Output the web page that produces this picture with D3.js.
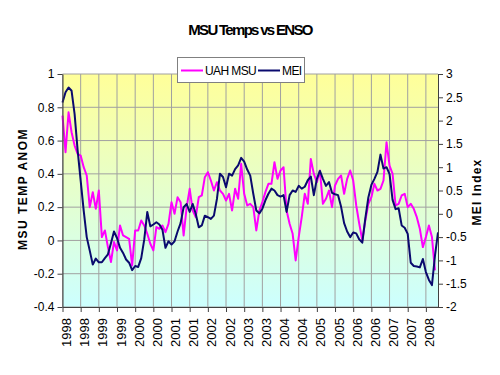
<!DOCTYPE html>
<html>
<head>
<meta charset="utf-8">
<script src="https://cdn.jsdelivr.net/npm/d3@7"></script>
<style>
  body { margin: 0; background: #fff; }
  svg { display: block; font-family: "Liberation Sans", Arial, sans-serif; }
</style>
</head>
<body>
<div id="chart"></div>
<script>
// monthly values, Jan 1998 onwards (UAH ends one month before MEI)
const uah = [
  0.75, 0.53, 0.77, 0.65, 0.57, 0.52, 0.51, 0.44, 0.39, 0.20, 0.29, 0.19,
  0.30, 0.02, 0.06, -0.04, -0.13, -0.01, -0.06, 0.09, 0.03, 0.02, 0.01, -0.15,
  0.06, 0.06, 0.12, 0.09, 0.04, -0.02, -0.06, 0.08, 0.07, 0.09, 0.05, 0.10,
  0.23, 0.16, 0.26, 0.23, 0.03, 0.20, 0.31, 0.18, 0.14, 0.26, 0.27, 0.38,
  0.41, 0.36, 0.30, 0.35, 0.30, 0.28, 0.24, 0.28, 0.18, 0.31, 0.25, 0.46,
  0.28, 0.21, 0.22, 0.20, 0.06, 0.18, 0.23, 0.29, 0.34, 0.34, 0.47, 0.37,
  0.42, 0.44, 0.18, 0.10, 0.04, -0.12, 0.02, 0.14, 0.28, 0.22, 0.49, 0.40,
  0.35, 0.42, 0.22, 0.25, 0.30, 0.20, 0.33, 0.37, 0.39, 0.28, 0.37, 0.42,
  0.36, 0.21, 0.10, 0.00, 0.12, 0.22, 0.26, 0.34, 0.30, 0.31, 0.36, 0.59,
  0.45, 0.40, 0.21, 0.22, 0.27, 0.28, 0.20, 0.22, 0.19, 0.14, 0.07, -0.04,
  0.02, 0.09, 0.02, -0.18
];

const mei = [
  2.39, 2.61, 2.71, 2.64, 2.14, 1.36, 0.71, 0.07, -0.50, -0.79, -1.09, -0.96,
  -1.04, -1.04, -0.95, -0.87, -0.63, -0.38, -0.52, -0.73, -0.84, -0.98, -1.05, -1.21,
  -1.12, -1.14, -0.95, -0.55, 0.04, -0.27, -0.23, -0.18, -0.23, -0.34, -0.73, -0.59,
  -0.66, -0.59, -0.38, -0.20, 0.14, 0.21, 0.04, 0.21, 0.00, -0.29, -0.25, -0.04,
  -0.07, -0.11, -0.04, 0.32, 0.86, 0.79, 0.57, 0.86, 0.82, 0.96, 1.04, 1.20,
  1.12, 0.95, 0.82, 0.43, 0.07, 0.01, 0.11, 0.29, 0.43, 0.54, 0.50, 0.40,
  0.37, 0.40, 0.04, 0.40, 0.50, 0.47, 0.60, 0.54, 0.58, 0.72, 0.80, 0.40,
  0.75, 0.92, 0.75, 0.60, 0.68, 0.45, 0.42, 0.40, 0.15, -0.20, -0.38, -0.50,
  -0.40, -0.42, -0.55, -0.62, -0.10, 0.35, 0.62, 0.75, 0.90, 1.27, 0.97, 1.00,
  0.85, 0.30, 0.10, 0.12, -0.25, -0.30, -0.43, -1.05, -1.12, -1.13, -1.15, -0.97,
  -1.25, -1.42, -1.53, -0.90, -0.40
];

const xTickLabels = ["1998", "1998", "1999", "1999", "2000", "2000", "2001", "2001",
  "2002", "2002", "2003", "2003", "2004", "2004", "2005", "2005", "2006", "2006",
  "2007", "2007", "2008"];
const leftTicks = [1, 0.8, 0.6, 0.4, 0.2, 0, -0.2, -0.4];
const leftTickLabels = ["1", "0.8", "0.6", "0.4", "0.2", "0", "-0.2", "-0.4"];
const rightTicks = [3, 2.5, 2, 1.5, 1, 0.5, 0, -0.5, -1, -1.5, -2];
const rightTickLabels = ["3", "2.5", "2", "1.5", "1", "0.5", "0", "-0.5", "-1", "-1.5", "-2"];
const seriesNames = ["UAH MSU", "MEI"];

const width = 500, height = 375;
const plot = { left: 62.5, right: 438, top: 74, bottom: 307 };
const uahColor = "#ff00ff", meiColor = "#0a0a6e";

const x = d3.scaleLinear().domain([0, mei.length - 1]).range([plot.left, plot.right]);
const yL = d3.scaleLinear().domain([-0.4, 1]).range([plot.bottom, plot.top]);
const yR = d3.scaleLinear().domain([-2, 3]).range([plot.bottom, plot.top]);
const xTicks = xTickLabels.map((d, i) => i * 6);

const svg = d3.select("#chart").append("svg")
  .attr("width", width)
  .attr("height", height);

const grad = svg.append("defs").append("linearGradient")
  .attr("id", "bg").attr("x1", 0).attr("y1", 0).attr("x2", 0).attr("y2", 1);
grad.append("stop").attr("offset", "0%").attr("stop-color", "#ffff99");
grad.append("stop").attr("offset", "100%").attr("stop-color", "#ccffff");

svg.append("rect")
  .attr("x", plot.left).attr("y", plot.top)
  .attr("width", plot.right - plot.left).attr("height", plot.bottom - plot.top)
  .attr("fill", "url(#bg)");

// grid
svg.append("g").selectAll("line")
  .data(leftTicks)
  .join("line")
    .attr("x1", plot.left).attr("x2", plot.right)
    .attr("y1", d => yL(d)).attr("y2", d => yL(d))
    .attr("stroke", "#a0a0a0").attr("stroke-width", 1);

svg.append("g").selectAll("line")
  .data(xTicks)
  .join("line")
    .attr("x1", d => x(d)).attr("x2", d => x(d))
    .attr("y1", plot.top).attr("y2", plot.bottom)
    .attr("stroke", "#a0a0a0").attr("stroke-width", 1);

// series
const line = scale => d3.line().x((d, i) => x(i)).y(d => scale(d));

svg.append("path")
  .datum(uah)
  .attr("fill", "none")
  .attr("stroke", uahColor)
  .attr("stroke-width", 2)
  .attr("stroke-linejoin", "round")
  .attr("d", line(yL));

svg.append("path")
  .datum(mei)
  .attr("fill", "none")
  .attr("stroke", meiColor)
  .attr("stroke-width", 2)
  .attr("stroke-linejoin", "round")
  .attr("d", line(yR));

// axes
const styleAxis = g => {
  g.selectAll(".domain").attr("stroke", "#404040");
  g.selectAll(".tick line").attr("stroke", "#404040");
  g.selectAll("text").attr("fill", "#000").style("font-size", "12px");
};

svg.append("g")
  .attr("transform", `translate(${plot.left},0)`)
  .call(d3.axisLeft(yL).tickValues(leftTicks)
    .tickFormat((d, i) => leftTickLabels[i]).tickSize(5).tickPadding(3).tickSizeOuter(0))
  .call(styleAxis);

svg.append("g")
  .attr("transform", `translate(${plot.right},0)`)
  .call(d3.axisRight(yR).tickValues(rightTicks)
    .tickFormat((d, i) => rightTickLabels[i]).tickSize(5).tickPadding(3).tickSizeOuter(0))
  .call(styleAxis);

svg.append("g")
  .attr("transform", `translate(0,${plot.bottom})`)
  .call(d3.axisBottom(x).tickValues(xTicks)
    .tickFormat((d, i) => xTickLabels[i]).tickSize(5).tickSizeOuter(0))
  .call(styleAxis)
  .call(g => g.selectAll("text")
    .attr("transform", "rotate(-90)")
    .attr("text-anchor", "end")
    .attr("x", -11)
    .attr("y", 3.5)
    .attr("dy", "0.35em")
    .style("font-size", "13px"));

// titles
svg.append("text")
  .attr("x", 250).attr("y", 35)
  .attr("text-anchor", "middle")
  .style("font-size", "15px").style("font-weight", "bold")
  .style("letter-spacing", "-1.7px")
  .text("MSU Temps vs ENSO");

svg.append("text")
  .attr("transform", "translate(27,189) rotate(-90)")
  .attr("text-anchor", "middle")
  .style("font-size", "12px").style("font-weight", "bold")
  .style("letter-spacing", "1.5px")
  .text("MSU  TEMP ANOM");

svg.append("text")
  .attr("transform", "translate(481,192) rotate(-90)")
  .attr("text-anchor", "middle")
  .style("font-size", "12px").style("font-weight", "bold")
  .style("letter-spacing", "1.2px")
  .text("MEI  Index");

// legend
const legend = svg.append("g");
legend.append("rect")
  .attr("x", 177.5).attr("y", 57.5).attr("width", 127).attr("height", 25)
  .attr("fill", "#fff").attr("stroke", "#808080");

const items = [
  { name: seriesNames[0], color: uahColor, x0: 181 },
  { name: seriesNames[1], color: meiColor, x0: 258 }
];
const item = legend.selectAll("g.item")
  .data(items)
  .join("g")
    .attr("class", "item");
item.append("line")
  .attr("x1", d => d.x0).attr("x2", d => d.x0 + 22)
  .attr("y1", 70.5).attr("y2", 70.5)
  .attr("stroke", d => d.color).attr("stroke-width", 2);
item.append("text")
  .attr("x", d => d.x0 + 24).attr("y", 75)
  .style("font-size", "12px").style("letter-spacing", "-0.6px")
  .text(d => d.name);
</script>
</body>
</html>
